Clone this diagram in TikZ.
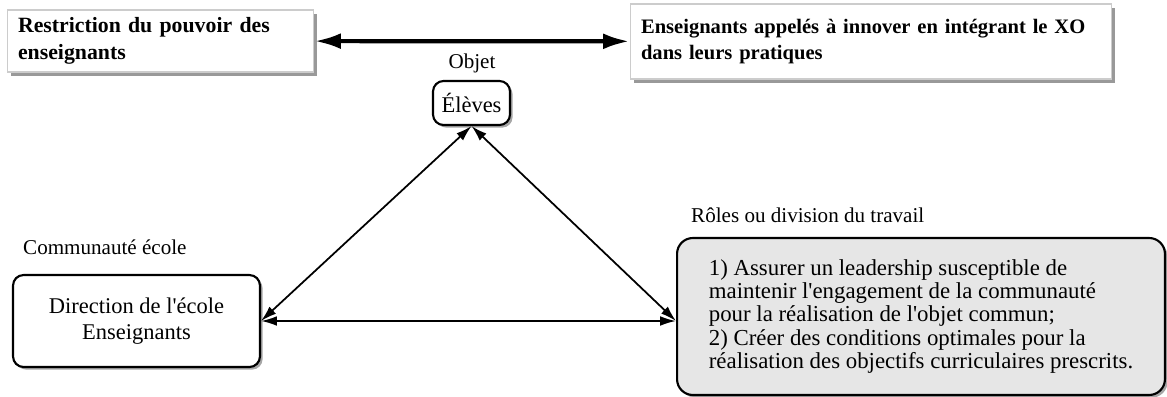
\documentclass[tikz,border=0pt]{standalone}
\usepackage{fontspec}
\setmainfont{Liberation Serif}
\usetikzlibrary{arrows.meta,shadows}
\definecolor{boxgray}{RGB}{230,230,230}
\tikzset{
  enjeu/.style={draw=gray!40, fill=white, line width=0.6pt, align=left,
    font=\fontsize{12}{15.3}\selectfont\bfseries,
    drop shadow={shadow xshift=2pt, shadow yshift=-2pt, fill=gray!80, opacity=1}},
  pole/.style={draw, rounded corners=6pt, line width=1.2pt, fill=white,
    font=\fontsize{12.8}{14.7}\selectfont,
    drop shadow={shadow xshift=1.5pt, shadow yshift=-1.5pt, fill=gray!70, opacity=1}},
  lien/.style={line width=1pt, {Latex[length=9pt,width=5.5pt]}-{Latex[length=9pt,width=5.5pt]}},
  titre/.style={font=\fontsize{12}{14}\selectfont}
}
\begin{document}
\begin{tikzpicture}[x=0.02cm, y=-0.02cm]
\useasboundingbox (0,0) rectangle (1167,396);

\node[enjeu, font=\fontsize{12.4}{15.3}\selectfont\bfseries, minimum height=1.24cm,
  text width=5.7cm, inner xsep=0.22cm] (restr) at (160.5,41)
  {Restriction du pouvoir des\\ enseignants};
\node[enjeu, font=\fontsize{11.7}{15.3}\selectfont\bfseries, minimum height=1.5cm,
  text width=9.2cm, inner xsep=0.22cm] (innov) at (871,41.5)
  {Enseignants appelés à innover en intégrant le XO\\ dans leurs pratiques};
\draw[line width=2.4pt, {Latex[length=15pt,width=9pt]}-{Latex[length=15pt,width=9pt]}] (restr) -- (innov);

\node[pole, minimum width=1.54cm, minimum height=0.88cm, inner sep=2pt] (eleves) at (471.5,103) {Élèves};
\node[titre] (objet) at (472,63) {Objet};

\node[pole, minimum width=4.94cm, minimum height=1.84cm, align=center] (direction) at (136.5,321)
  {Direction de l\textquotesingle école\\ Enseignants};
\node[titre, anchor=west] (communaute) at (17,247) {Communauté école};

\node[pole, fill=boxgray, rounded corners=9pt, minimum width=9.76cm, minimum height=3.14cm,
  align=left, font=\fontsize{13}{13.3}\selectfont] (roles) at (921,316.5)
  {1) Assurer un leadership susceptible de\\
   maintenir l\textquotesingle engagement de la communauté\\
   pour la réalisation de l\textquotesingle objet commun;\\
   2) Créer des conditions optimales pour la\\
   réalisation des objectifs curriculaires prescrits.};
\node[titre, anchor=west] (division) at (685,215) {Rôles ou division du travail};

\coordinate (entree) at (direction.east -| roles.west);
\draw[lien] (direction.east) -- (eleves.south);
\draw[lien] (entree) -- (eleves.south);
\draw[lien] (direction.east) -- (entree);
\end{tikzpicture}
\end{document}
